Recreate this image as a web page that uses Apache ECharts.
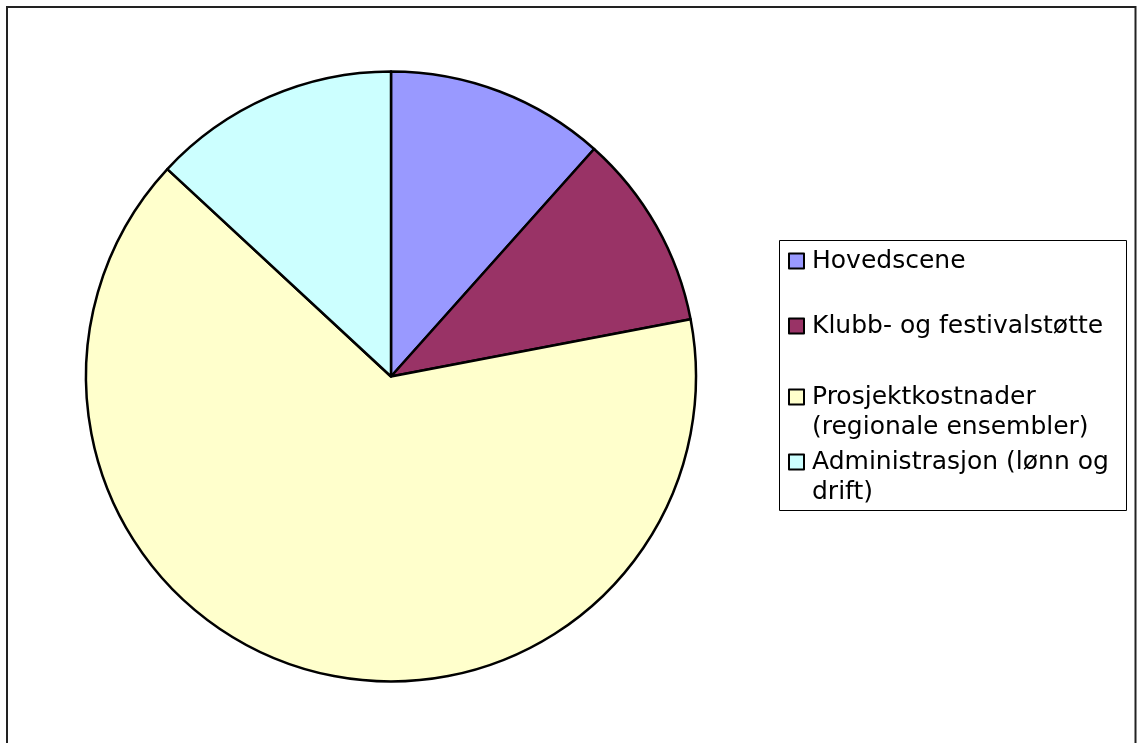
<!DOCTYPE html>
<html>
<head>
<meta charset="utf-8">
<script src="https://cdn.jsdelivr.net/npm/echarts@6/dist/echarts.min.js"></script>
<style>
  html, body { margin: 0; padding: 0; background: #fff; }
  #chart { width: 1138px; height: 743px; }
</style>
</head>
<body>
<div id="chart"></div>
<script>
// Budget shares (percent)
const categories = [
  'Hovedscene',
  'Klubb- og festivalstøtte',
  'Prosjektkostnader (regionale ensembler)',
  'Administrasjon (lønn og drift)'
];
const legendLabels = [
  'Hovedscene',
  'Klubb- og festivalstøtte',
  'Prosjektkostnader\n(regionale ensembler)',
  'Administrasjon (lønn og\ndrift)'
];
const values = [11.6, 10.4, 64.9, 13.1];
const colors = ['#9999FF', '#993366', '#FFFFCC', '#CCFFFF'];

const FONT = '"DejaVu Sans", Verdana, sans-serif';
const LINE_H = 30;
// vertical centre of each legend entry's first line
const legendRowCenters = [261, 326, 397, 462];

const chart = echarts.init(document.getElementById('chart'), null, { renderer: 'canvas' });

// One legend component per entry; multi-line entries get a leading blank line
// so the marker sits beside the first text line.
const legends = categories.map((name, i) => {
  const lines = legendLabels[i].split('\n').length;
  const padLines = lines > 1 ? lines - 1 : 0;
  const totalLines = lines + padLines;
  return {
    show: true,
    orient: 'vertical',
    left: 788,
    top: legendRowCenters[i] - (totalLines * LINE_H) / 2,
    itemWidth: 15,
    itemHeight: 15,
    itemGap: 0,
    padding: 0,
    selectedMode: false,
    data: [{ name: name, icon: 'rect' }],
    formatter: () => '\n'.repeat(padLines) + legendLabels[i],
    itemStyle: { borderColor: '#000', borderWidth: 2 },
    textStyle: {
      fontFamily: FONT,
      fontSize: 25,
      lineHeight: LINE_H,
      color: '#000',
      padding: [0, 0, 0, 3]
    }
  };
});

chart.setOption({
  animation: false,
  backgroundColor: '#fff',
  color: colors,
  legend: legends,
  graphic: [
    {
      type: 'rect',
      shape: { x: 7, y: 7, width: 1128.5, height: 760 },
      style: { fill: 'none', stroke: '#222', lineWidth: 2 },
      z: 0
    },
    {
      type: 'rect',
      shape: { x: 779.5, y: 240.5, width: 347, height: 270 },
      style: { fill: '#fff', stroke: '#000', lineWidth: 1 },
      z: 1
    }
  ],
  series: [{
    type: 'pie',
    center: [391, 376.5],
    radius: [0, 305],
    startAngle: 90,
    clockwise: true,
    label: { show: false },
    labelLine: { show: false },
    emphasis: { disabled: true },
    itemStyle: { borderColor: '#000', borderWidth: 2.5 },
    data: categories.map((name, i) => ({ name: name, value: values[i] })),
    z: 2
  }]
});
</script>
</body>
</html>
